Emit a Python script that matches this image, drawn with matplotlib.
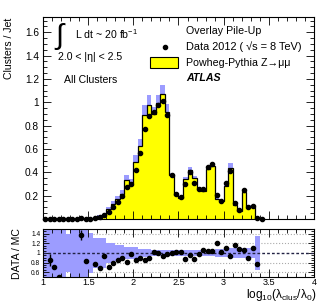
import numpy as np
import matplotlib
matplotlib.use('Agg')
import matplotlib.pyplot as plt
from matplotlib.ticker import MultipleLocator, FormatStrFormatter, FixedLocator
from matplotlib.patches import Rectangle
from matplotlib.lines import Line2D

plt.rcParams['font.family'] = ['Liberation Sans', 'DejaVu Sans']
plt.rcParams['mathtext.fontset'] = 'custom'
plt.rcParams['mathtext.rm'] = 'Liberation Sans'
plt.rcParams['mathtext.it'] = 'Liberation Sans:italic'
plt.rcParams['mathtext.bf'] = 'Liberation Sans:bold'

# bins of log10(lambda_clus/lambda_0), width 0.05 from 1.0
edges = np.round(np.arange(1.0, 3.4501, 0.05), 3)

data = [0, 0.0034, 0.0028, 0.002, 0, 0, 0, 0, 0.0055, 0.0033, 0,
        0.008, 0.02, 0.03, 0.06, 0.10, 0.145, 0.195, 0.27, 0.30, 0.42,
        0.565, 0.77, 0.88, 0.92, 0.98, 1.01, 0.89, 0.375, 0.21, 0.185,
        0.30, 0.40, 0.305, 0.255, 0.255, 0.445, 0.47, 0.205, 0.156, 0.31,
        0.41, 0.14, 0.077, 0.245, 0.10, 0.11, 0.006, 0.0]

mc = [0.004] * 11 + [
    0.0105, 0.029, 0.032, 0.085, 0.128, 0.17, 0.217, 0.333, 0.309, 0.488,
    0.628, 0.895, 0.978, 0.90, 0.99, 1.075, 0.918, 0.375, 0.206, 0.18,
    0.34, 0.42, 0.347, 0.258, 0.24, 0.428, 0.452, 0.171, 0.154, 0.282,
    0.436, 0.12, 0.071, 0.229, 0.111, 0.10, 0.0077, 0.0]

# relative MC uncertainty (band half width)
mc_rel_err = ([0.7] * 5 + [0.4] + [0.7] * 4 + [0.42] + [0.32] * 3 + [0.2] * 2
              + [0.16] * 2 + [0.12] * 3 + [0.09] * 3 + [0.07] * 4 + [0.06] * 10
              + [0.08] * 3 + [0.11] * 6 + [0.35] + [0.0])

ratio_err = [0, 0.12, 0.04, 0.04, 0, 0, 0, 0, 0.1, 0.03, 0,
             0.04, 0.03] + [0.015] * 36

data = np.array(data)
mc = np.array(mc)
rel = np.array(mc_rel_err)
centers = 0.5 * (edges[:-1] + edges[1:])

blue = '#9c9cff'
yellow = '#ffff00'
ms = 3.0

fig = plt.figure(figsize=(3.29, 3.05), dpi=100)
ax = fig.add_axes([0.131, 0.282, 0.823, 0.662])
rax = fig.add_axes([0.131, 0.092, 0.823, 0.157])

# main panel
ax.stairs(mc * (1 + rel), edges, baseline=mc * (1 - rel), fill=True, color=blue, lw=0)
ax.stairs(mc, edges, fill=True, color=yellow, lw=0)
ax.stairs(mc, edges, color='black', lw=0.9)
ax.plot(centers, data, 'o', color='black', ms=ms, clip_on=False, zorder=5)

ax.set_xlim(1, 4)
ax.set_ylim(0, 1.73)
ax.yaxis.set_major_locator(FixedLocator([0.2, 0.4, 0.6, 0.8, 1.0, 1.2, 1.4, 1.6]))
ax.yaxis.set_major_formatter(FormatStrFormatter('%g'))
ax.yaxis.set_minor_locator(MultipleLocator(0.05))
ax.xaxis.set_major_locator(MultipleLocator(0.5))
ax.xaxis.set_minor_locator(MultipleLocator(0.1))
ax.tick_params(labelbottom=False)

# ratio panel
nb = 48
ratio = np.full(len(data), np.nan)
ratio[:nb] = data[:nb] / mc[:nb]
for yv in [0.6, 0.8, 1.2, 1.4]:
    rax.axhline(yv, color='#aaaaaa', ls=':', lw=0.8, zorder=0)
rax.stairs(1 + rel[:nb], edges[:nb + 1], baseline=1 - rel[:nb], fill=True, color=blue, lw=0, zorder=1)
rax.axhline(1.0, color='#222244', ls=(0, (2, 1.5)), lw=1.0, zorder=2)
rax.errorbar(centers, ratio, yerr=ratio_err, fmt='o', color='black', ms=ms,
             elinewidth=1.0, capsize=0, zorder=5)

rax.set_xlim(1, 4)
rax.set_ylim(0.5, 1.5)
rax.yaxis.set_major_locator(FixedLocator([0.6, 0.8, 1.0, 1.2, 1.4]))
rax.yaxis.set_major_formatter(FormatStrFormatter('%g'))
rax.yaxis.set_minor_locator(MultipleLocator(0.05))
rax.xaxis.set_major_locator(MultipleLocator(0.5))
rax.xaxis.set_minor_locator(MultipleLocator(0.1))
rax.xaxis.set_major_formatter(FormatStrFormatter('%g'))

for a in (ax, rax):
    a.tick_params(which='both', direction='in', top=True, right=True, width=0.6)
    a.tick_params(which='major', length=5.5)
    a.tick_params(which='minor', length=2.8)
    for s in a.spines.values():
        s.set_linewidth(0.8)
ax.tick_params(axis='y', labelsize=7.3, pad=3)
rax.tick_params(axis='y', labelsize=4.8, pad=2)
rax.tick_params(axis='x', labelsize=6.6, pad=1)
rax.tick_params(axis='y', which='major', length=4)
rax.tick_params(axis='y', which='minor', length=2)


def fx(px):
    return px / 329.0


def fy(py):
    return 1 - py / 305.0


fig.text(fx(9), fy(18), 'Clusters / Jet', fontsize=7.6, rotation=90, va='top', ha='center')
fig.text(fx(17), fy(254), 'DATA / MC', fontsize=7.6, rotation=90, va='center', ha='center')
fig.text(fx(316), fy(298), r'log$_{10}$(λ$_{\rm clus}$/λ$_{0}$)', fontsize=8.6, va='baseline', ha='right')

fig.text(fx(54), fy(37), r'$\int$', fontsize=21, va='center', ha='left')
fig.text(fx(75), fy(34), r'L dt ~ 20 fb$^{-1}$', fontsize=7.6, va='center', ha='left')
fig.text(fx(58), fy(57), '2.0 < |η| < 2.5', fontsize=7.6, va='center', ha='left')
fig.text(fx(64), fy(80), 'All Clusters', fontsize=7.6, va='center', ha='left')

fig.text(fx(186), fy(31), 'Overlay Pile-Up', fontsize=7.7, va='center', ha='left')
fig.text(fx(186), fy(47), 'Data 2012 ( √s = 8 TeV)', fontsize=7.9, va='center', ha='left')
fig.text(fx(186), fy(63), 'Powheg-Pythia Z→μμ', fontsize=7.7, va='center', ha='left')
fig.text(fx(186), fy(78), 'ATLAS', fontsize=7.7, va='center', ha='left',
         fontweight='bold', fontstyle='italic')
fig.add_artist(Line2D([fx(165)], [fy(47)], marker='o', color='black', ms=ms))
fig.add_artist(Rectangle((fx(150), fy(68)), fx(28), 11 / 305.0, facecolor=yellow,
                         edgecolor='black', lw=0.8))

fig.savefig('out.png', dpi=100)
